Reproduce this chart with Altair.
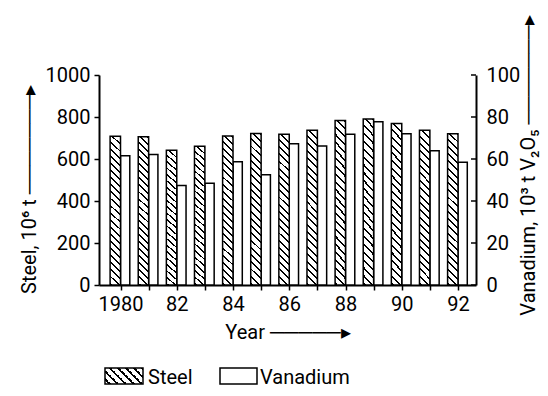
import json
import altair as alt
import pandas as pd

# ---------------- data ----------------
years = list(range(1980, 1993))
steel = [708, 706, 642, 661, 709, 722, 718, 737, 783, 791, 769, 737, 720]          # 10^6 t
vanadium = [61.6, 62.1, 47.4, 48.4, 58.7, 52.5, 67.3, 66.2, 71.8, 77.7, 72.0, 63.9, 58.5]  # 10^3 t V2O5
x_tick_labels = ["1980", "", "82", "", "84", "", "86", "", "88", "", "90", "", "92"]
steel_ticks = [0, 200, 400, 600, 800, 1000]
vanadium_ticks = [0, 20, 40, 60, 80, 100]
legend_labels = ["Steel", "Vanadium"]

# ---------------- style ----------------
FONT = "Roboto"
FS = 20
W, H = 377, 210


def hatch(w, h, d, s=1.0, frac=0.27):
    """Diagonal '\\' hatch as a hard-stop linear gradient (bbox units)."""
    r = s * w / h
    L = (1 + r) / (1 + r * r)
    p = d / (h + s * w)
    stops = []
    k = 0
    while k * p < 1:
        a = k * p
        b = min(1.0, a + frac * p)
        stops += [(a, "white"), (a, "black"), (b, "black"), (b, "white")]
        k += 1
    return alt.LinearGradient(
        gradient="linear",
        stops=[alt.GradientStop(offset=o, color=c) for o, c in stops],
        x1=1, y1=0, x2=1 - r * L, y2=L,
    )


df = pd.DataFrame({"year": years, "steel": steel, "vanadium": vanadium})
xscale = alt.Scale(domain=[1979.235, 1992.64], nice=False, zero=False)
ys_scale = alt.Scale(domain=[0, 1000], nice=False)
yv_scale = alt.Scale(domain=[0, 100], nice=False)

label_expr = json.dumps(x_tick_labels) + "[round(datum.value) - 1980]"

common = dict(
    grid=False, domainColor="black", domainWidth=2,
    labelFont=FONT, labelFontSize=FS, labelColor="black",
    labelFlush=False, labelOverlap=False,
    titleFont=FONT, titleFontSize=FS, titleFontWeight="normal", titleColor="black",
)

x_axis = alt.Axis(
    values=years, labelExpr=label_expr,
    tickSize=5, tickWidth=1.5, tickColor="black", labelPadding=4,
    title="Year ─────▸", titleBaseline="alphabetic", titleY=53,
    **common,
)
ys_axis = alt.Axis(
    values=steel_ticks, format="d", orient="left",
    tickSize=5, tickWidth=1.5, tickColor="black", labelPadding=4,
    title="Steel, 10⁶ t ───────▸",
    titleAngle=270, titleAlign="center", titleBaseline="alphabetic",
    titleX=-64, titleY=114,
    **common,
)
yv_axis = alt.Axis(
    values=vanadium_ticks, format="d", orient="right", ticks=False,
    labelPadding=10,
    title="Vanadium, 10³ t V₂O₅ ───────▸",
    titleAngle=270, titleAlign="center", titleBaseline="alphabetic",
    titleX=58, titleY=90,
    **common,
)

base = alt.Chart(df).transform_calculate(
    xs="datum.year - 0.37", xv="datum.year + 0.33"
)

steel_bars = base.mark_rect(
    fill=hatch(10.4, 153, 7.3), stroke="black", strokeWidth=1.5
).encode(
    x=alt.X("xs:Q", scale=xscale, axis=x_axis),
    x2="year:Q",
    y=alt.Y("steel:Q", scale=ys_scale, axis=ys_axis),
    y2=alt.datum(0),
)

van_bars = base.mark_rect(fill="white", stroke="black", strokeWidth=1.5).encode(
    x=alt.X("year:Q", scale=xscale, axis=x_axis),
    x2="xv:Q",
    y=alt.Y("vanadium:Q", scale=yv_scale, axis=yv_axis),
    y2=alt.datum(0),
)

# inward-pointing tick marks of the right-hand axis
van_tick_df = pd.DataFrame({"vanadium": vanadium_ticks})
van_ticks = alt.Chart(van_tick_df).mark_rule(color="black", strokeWidth=1.5).encode(
    y=alt.Y("vanadium:Q", scale=yv_scale, axis=yv_axis),
    x=alt.value(W - 5),
    x2=alt.value(W),
)

van_layer = alt.layer(van_bars, van_ticks)

# ---------------- legend ----------------
leg_df = pd.DataFrame({"label": legend_labels})
LY0, LY1 = 293, 309
leg_steel_box = alt.Chart(leg_df).transform_filter(
    alt.datum.label == legend_labels[0]
).mark_rect(fill=hatch(38, 16, 8), stroke="black", strokeWidth=1.5).encode(
    x=alt.value(6), x2=alt.value(44), y=alt.value(LY0), y2=alt.value(LY1)
)
leg_steel_text = alt.Chart(leg_df).transform_filter(
    alt.datum.label == legend_labels[0]
).mark_text(align="left", baseline="alphabetic", font=FONT, fontSize=FS, color="black").encode(
    x=alt.value(49), y=alt.value(LY1), text="label:N"
)
leg_van_box = alt.Chart(leg_df).transform_filter(
    alt.datum.label == legend_labels[1]
).mark_rect(fill="white", stroke="black", strokeWidth=1.5).encode(
    x=alt.value(121), x2=alt.value(158), y=alt.value(LY0), y2=alt.value(LY1)
)
leg_van_text = alt.Chart(leg_df).transform_filter(
    alt.datum.label == legend_labels[1]
).mark_text(align="left", baseline="alphabetic", font=FONT, fontSize=FS, color="black").encode(
    x=alt.value(161), y=alt.value(LY1), text="label:N"
)

chart = alt.layer(
    van_layer, steel_bars,
    leg_steel_box, leg_steel_text, leg_van_box, leg_van_text,
).resolve_scale(y="independent").properties(
    width=W, height=H,
    autosize=alt.AutoSizeParams(type="none"),
    padding={"left": 91, "top": 67, "right": 64, "bottom": 103},
    background="white",
).configure_view(stroke=None)

chart.save("out.html", embed_options={"renderer": "svg", "actions": False})
